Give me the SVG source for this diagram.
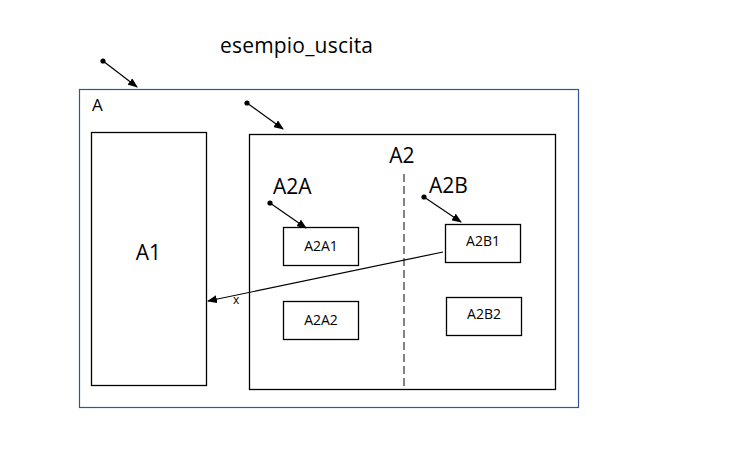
<svg xmlns="http://www.w3.org/2000/svg" width="755" height="467" viewBox="0 0 755 467">
<style>
.box{fill:#fff;stroke:#000;stroke-width:1.3}
.t{font-family:"Open Sans","Liberation Sans",sans-serif;fill:#000}
.c{stroke:#000;stroke-width:1.2;fill:none}
</style>
<defs>
<marker id="ah" markerWidth="10" markerHeight="8" refX="9" refY="4" orient="auto" markerUnits="userSpaceOnUse">
<path d="M0,0 L10,4 L0,8 Z" fill="#000"/>
</marker>
<marker id="dot" markerWidth="6" markerHeight="6" refX="3" refY="3" markerUnits="userSpaceOnUse">
<circle cx="3" cy="3" r="2.6" fill="#000"/>
</marker>
</defs>
<rect width="755" height="467" fill="#fff"/>
<text class="t" x="220" y="53" font-size="21" textLength="153">esempio_uscita</text>
<g id="A">
<rect x="79.5" y="89.5" width="499" height="318" fill="#fff" stroke="#2F5597" stroke-width="1.2"/>
<text class="t" x="92" y="111" font-size="17">A</text>
</g>
<g id="A1">
<rect class="box" x="91.5" y="132.5" width="115" height="253"/>
<text class="t" x="148.5" y="260" font-size="21" text-anchor="middle">A1</text>
</g>
<g id="A2">
<rect class="box" x="249.5" y="134.5" width="306" height="255"/>
<text class="t" x="402" y="163" font-size="21" text-anchor="middle">A2</text>
<line x1="404" y1="174" x2="404" y2="389" stroke="#404040" stroke-width="1.3" stroke-dasharray="8,4"/>
</g>
<g id="A2A">
<text class="t" x="273" y="194" font-size="21">A2A</text>
</g>
<g id="A2B">
<text class="t" x="429" y="193" font-size="21">A2B</text>
</g>
<g id="A2A1">
<rect class="box" x="283.5" y="227.5" width="75" height="38"/>
<text class="t" x="321" y="251" font-size="14" text-anchor="middle">A2A1</text>
</g>
<g id="A2A2">
<rect class="box" x="283.5" y="301.5" width="75" height="38"/>
<text class="t" x="321" y="325" font-size="14" text-anchor="middle">A2A2</text>
</g>
<g id="A2B1">
<rect class="box" x="445.5" y="224.5" width="75" height="38"/>
<text class="t" x="483" y="246" font-size="14" text-anchor="middle">A2B1</text>
</g>
<g id="A2B2">
<rect class="box" x="446.5" y="297.5" width="75" height="38"/>
<text class="t" x="484" y="319" font-size="14" text-anchor="middle">A2B2</text>
</g>
<g id="connectors">
<line class="c" x1="103" y1="61" x2="137" y2="87" marker-start="url(#dot)" marker-end="url(#ah)"/>
<line class="c" x1="247" y1="103" x2="283" y2="129" marker-start="url(#dot)" marker-end="url(#ah)"/>
<line class="c" x1="270" y1="203" x2="306" y2="228" marker-start="url(#dot)" marker-end="url(#ah)"/>
<line class="c" x1="424" y1="197" x2="461" y2="222" marker-start="url(#dot)" marker-end="url(#ah)"/>
<line class="c" x1="443" y1="252" x2="208" y2="301" marker-end="url(#ah)"/>
<text class="t" x="233" y="304" font-size="12">x</text>
</g>
</svg>
